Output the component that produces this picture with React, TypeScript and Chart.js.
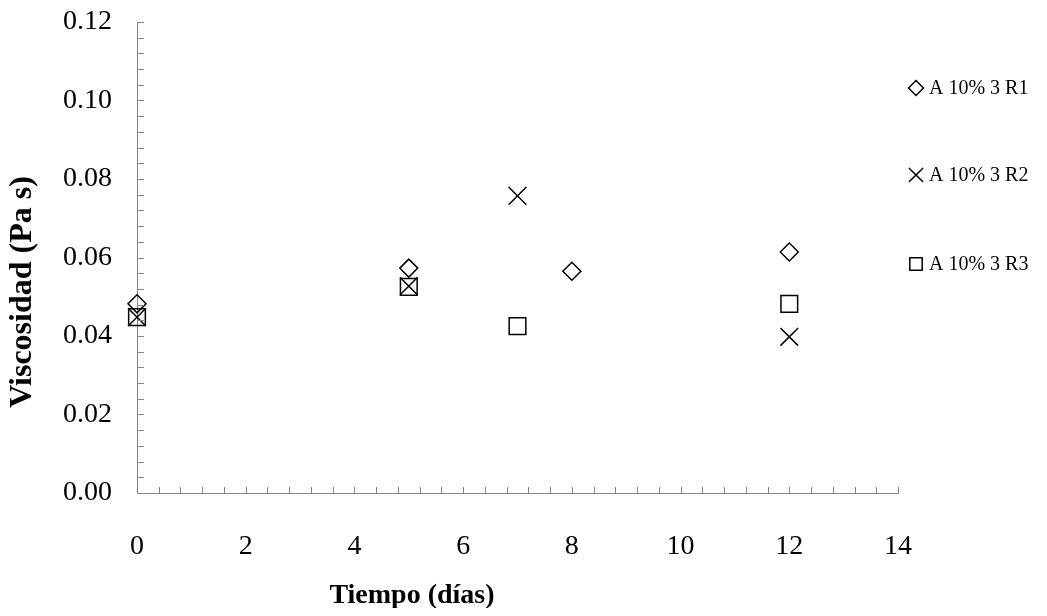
import React, { useEffect, useRef } from "react";
import { Chart, registerables } from "chart.js";

Chart.register(...registerables);

const seriesNames = ["A 10% 3 R1", "A 10% 3 R2", "A 10% 3 R3"];
const r1Days = [0, 5, 8, 12];
const r1Visc = [0.0482, 0.0573, 0.0565, 0.0614];
const r2Days = [0, 5, 7, 12];
const r2Visc = [0.0448, 0.0527, 0.0757, 0.0398];
const r3Days = [0, 5, 7, 12];
const r3Visc = [0.0448, 0.0525, 0.0425, 0.0482];
const xTitle = "Tiempo (días)";
const yTitle = "Viscosidad (Pa s)";

const FONT = "'Liberation Serif', 'Times New Roman', serif";
const AXIS_GREY = "#868686";

const pointStyles = ["rectRot", "crossRot", "rect"];
const pointRadii = [9, 12.5, 11.8];
const legendRadii = [7.5, 10, 8.7];

const toPoints = (xs: number[], ys: number[]) => xs.map((x, i) => ({ x, y: ys[i] }));

function drawMarker(ctx: CanvasRenderingContext2D, style: string, r: number, x: number, y: number) {
  ctx.beginPath();
  if (style === "rectRot") {
    ctx.moveTo(x - r, y);
    ctx.lineTo(x, y - r);
    ctx.lineTo(x + r, y);
    ctx.lineTo(x, y + r);
    ctx.closePath();
  } else if (style === "crossRot") {
    const o = Math.SQRT1_2 * r;
    ctx.moveTo(x - o, y - o);
    ctx.lineTo(x + o, y + o);
    ctx.moveTo(x - o, y + o);
    ctx.lineTo(x + o, y - o);
  } else {
    const s = Math.SQRT1_2 * r;
    ctx.rect(x - s, y - s, 2 * s, 2 * s);
  }
  ctx.stroke();
}

const extrasPlugin = {
  id: "extras",
  afterDraw(chart: any) {
    const ctx = chart.ctx;
    const xs = chart.scales.x;
    const ys = chart.scales.y;
    const area = chart.chartArea;
    ctx.save();
    // minor tick marks (inside)
    ctx.strokeStyle = AXIS_GREY;
    ctx.lineWidth = 1;
    ctx.beginPath();
    for (let i = 1; i <= 35; i++) {
      const px = Math.round(xs.getPixelForValue(i * 0.4)) + 0.5;
      ctx.moveTo(px, area.bottom);
      ctx.lineTo(px, area.bottom - 6);
    }
    for (let i = 1; i <= 30; i++) {
      const py = Math.round(ys.getPixelForValue(i * 0.004)) + 0.5;
      ctx.moveTo(area.left, py);
      ctx.lineTo(area.left + 7, py);
    }
    ctx.stroke();

    // axis titles
    ctx.fillStyle = "#000";
    ctx.font = `bold 28px ${FONT}`;
    ctx.textAlign = "center";
    ctx.textBaseline = "middle";
    ctx.fillText(xTitle, 404, 588);
    ctx.save();
    ctx.translate(15, 284);
    ctx.rotate(-Math.PI / 2);
    ctx.font = `bold 32px ${FONT}`;
    ctx.fillText(yTitle, 0, 0);
    ctx.restore();

    // legend
    const legendY = [80, 167, 256];
    ctx.font = `20px ${FONT}`;
    ctx.textAlign = "left";
    ctx.textBaseline = "middle";
    seriesNames.forEach((name, i) => {
      ctx.strokeStyle = "#000";
      ctx.lineWidth = 1.5;
      drawMarker(ctx, pointStyles[i], legendRadii[i], 908, legendY[i]);
      ctx.fillStyle = "#000";
      ctx.fillText(name, 921, legendY[i] + 1);
    });
    ctx.restore();
  },
};

export default function App() {
  const ref = useRef<HTMLCanvasElement>(null);
  useEffect(() => {
    if (!ref.current) return;
    const series = [
      toPoints(r1Days, r1Visc),
      toPoints(r2Days, r2Visc),
      toPoints(r3Days, r3Visc),
    ];
    const chart = new Chart(ref.current, {
      type: "scatter",
      data: {
        datasets: series.map((data, i) => ({
          label: seriesNames[i],
          data,
          pointStyle: pointStyles[i] as any,
          pointRadius: pointRadii[i],
          pointHoverRadius: pointRadii[i],
          pointBorderColor: "#000",
          pointBackgroundColor: "rgba(0,0,0,0)",
          pointBorderWidth: 1.5,
          showLine: false,
          clip: false as any,
        })),
      },
      options: {
        responsive: false,
        animation: false,
        layout: { padding: { top: 14, right: 141, left: 0, bottom: 0 } },
        plugins: {
          legend: { display: false },
          tooltip: { enabled: false },
        },
        scales: {
          x: {
            type: "linear",
            min: 0,
            max: 14,
            afterFit: (s: any) => {
              s.height = 115;
              s.paddingLeft = 0;
              s.paddingRight = 0;
            },
            ticks: {
              stepSize: 2,
              padding: 40,
              color: "#000",
              font: { family: FONT, size: 28, lineHeight: 1 },
              maxRotation: 0,
            },
            grid: { drawOnChartArea: false, drawTicks: false },
            border: { display: true, color: AXIS_GREY, width: 1 },
          },
          y: {
            type: "linear",
            min: 0,
            max: 0.12,
            afterFit: (s: any) => {
              s.width = 129;
              s.paddingTop = 0;
              s.paddingBottom = 0;
            },
            ticks: {
              stepSize: 0.02,
              padding: 25,
              color: "#000",
              font: { family: FONT, size: 28, lineHeight: 1 },
              callback: (v: any) => Number(v).toFixed(2),
            },
            grid: { drawOnChartArea: false, drawTicks: false },
            border: { display: true, color: AXIS_GREY, width: 1 },
          },
        },
      },
      plugins: [extrasPlugin],
    });
    return () => chart.destroy();
  }, []);
  return <canvas ref={ref} width={1031} height={600} style={{ display: "block" }} />;
}
